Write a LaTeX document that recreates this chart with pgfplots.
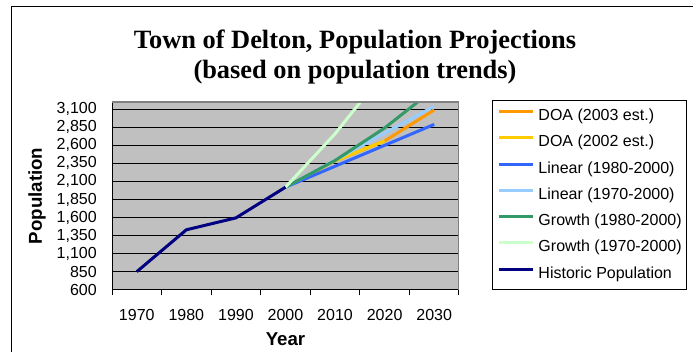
\documentclass[border=0pt]{standalone}
\usepackage{pgfplots}
\pgfplotsset{compat=1.18}
\usepackage{fontspec}
\setmainfont{Liberation Sans}
\newfontfamily\titlefont{Liberation Serif}
\definecolor{bggray}{HTML}{C0C0C0}
\definecolor{bordergray}{HTML}{808080}
\definecolor{doaA}{HTML}{FF9900}
\definecolor{doaB}{HTML}{FFCC00}
\definecolor{linA}{HTML}{3366FF}
\definecolor{linB}{HTML}{99CCFF}
\definecolor{groA}{HTML}{339966}
\definecolor{groB}{HTML}{CCFFCC}
\definecolor{histcol}{HTML}{000080}
\begin{document}
\begin{tikzpicture}[x=1pt,y=1pt]
\useasboundingbox (0,0) rectangle (519.75,264);
\draw[line width=0.75pt] (8.25,-2) -- (8.25,258.75) -- (522,258.75);
\node[font=\titlefont\bfseries\fontsize{19.8}{22}\selectfont, anchor=base] at (266.25,227.8) {Town of Delton, Population Projections};
\node[font=\titlefont\bfseries\fontsize{19.8}{22}\selectfont, anchor=base] at (266.25,205.3) {(based on population trends)};
\begin{axis}[
  at={(84pt,46.7pt)}, anchor=south west, scale only axis,
  width=260.25pt, height=140.8pt,
  xmin=-0.5, xmax=6.5, ymin=600, ymax=3200,
  xtick={-0.5,0.5,...,6.5},
  xticklabels={1970,1980,1990,2000,2010,2020,2030,{}},
  xticklabel style={xshift=18.57pt, inner sep=0pt, anchor=north, yshift=-10pt},
  ytick={600,850,...,3100},
  scaled y ticks=false,
  yticklabel style={inner sep=0pt, anchor=east, xshift=-7pt,
    /pgf/number format/1000 sep={,}, /pgf/number format/assume math mode=true},
  tick label style={font=\fontsize{12}{14}\selectfont},
  ymajorgrids, major grid style={black, line width=0.75pt},
  tick align=outside, major tick length=4.25pt,
  ytick style={draw=none},
  xtick style={black, line width=0.75pt},
  axis x line*=bottom, axis y line*=left,
  axis line style={black, line width=0.75pt, -},
  axis background/.style={fill=bggray},
  xlabel={Year}, ylabel={Population},
  label style={font=\bfseries\fontsize{14}{16}\selectfont},
  xlabel style={at={(axis description cs:0.5,-0.2985)}, anchor=base},
  ylabel style={at={(axis description cs:-0.2161,0.5)}, anchor=center},
  legend style={at={(axis description cs:1.0951,1.0107)}, anchor=north west,
    draw=black, line width=0.75pt, fill=white, inner xsep=3.75pt, inner ysep=6pt,
    row sep=8.2pt, font=\fontsize{12}{14}\selectfont,
    nodes={inner sep=0pt, text height=9pt, text depth=2.5pt},
    /tikz/every odd column/.append style={column sep=3pt}},
  legend cell align=left,
  legend image code/.code={\draw[#1, line width=2.25pt] (0pt,3.5pt) -- (25.5pt,3.5pt);},
  every axis plot/.append style={line width=2.25pt, no markers},
]
\addplot[doaA] coordinates {(3,2020)(4,2385)(5,2660)(6,3090)};
\addlegendentry{DOA (2003 est.)}
\addplot[doaB] coordinates {(3,2020)(4,2385)(5,2660)};
\addlegendentry{DOA (2002 est.)}
\addplot[linA] coordinates {(3,2020)(4,2310)(5,2600)(6,2890)};
\addlegendentry{Linear (1980-2000)}
\addplot[linB] coordinates {(3,2020)(4,2395)(5,2770)(6,3140)};
\addlegendentry{Linear (1970-2000)}
\addplot[groA] coordinates {(3,2020)(4,2390)(5,2840)(6,3380)};
\addlegendentry{Growth (1980-2000)}
\addplot[groB] coordinates {(3,2020)(4,2760)(5,3620)(6,4750)};
\addlegendentry{Growth (1970-2000)}
\addplot[histcol] coordinates {(0,850)(1,1430)(2,1595)(3,2020)};
\addlegendentry{Historic Population}
\draw[bordergray, line width=1.2pt] (rel axis cs:0,1) -- (rel axis cs:1,1) -- (rel axis cs:1,0);
\end{axis}
\end{tikzpicture}
\end{document}
